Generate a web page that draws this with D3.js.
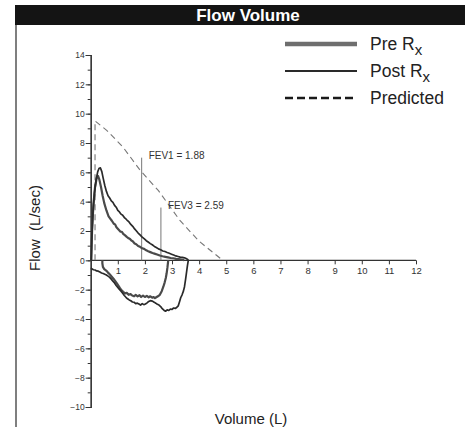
<!DOCTYPE html>
<html>
<head>
<meta charset="utf-8">
<script src="https://cdn.jsdelivr.net/npm/d3@7"></script>
<style>
  html, body { margin: 0; padding: 0; background: #fff; }
  svg { display: block; }
</style>
</head>
<body>
<svg id="chart" width="465" height="427"></svg>
<script>
// Flow-volume loops: [volume (L), flow (L/sec)]
const preExpiratory = [
  [0.02,0],[0.05,2.0],[0.1,3.8],[0.16,5.0],[0.22,5.6],[0.27,5.75],[0.32,5.5],[0.38,5.0],
  [0.44,4.4],[0.5,3.9],[0.58,3.4],[0.66,3.0],[0.72,2.85],[0.78,2.7],[0.85,2.5],[0.9,2.45],
  [0.95,2.25],[1.0,2.15],[1.05,2.05],[1.1,1.95],[1.15,1.95],[1.2,1.8],[1.27,1.7],[1.33,1.6],
  [1.4,1.5],[1.45,1.45],[1.5,1.35],[1.55,1.3],[1.62,1.15],[1.68,1.1],[1.75,0.98],[1.82,0.92],
  [1.9,0.82],[1.97,0.78],[2.05,0.68],[2.12,0.62],[2.2,0.56],[2.28,0.5],[2.35,0.46],[2.45,0.4],
  [2.55,0.33],[2.65,0.28],[2.75,0.24],[2.85,0.2],[2.95,0.16],[3.05,0.14],[3.15,0.1],
  [3.25,0.08],[3.35,0.05],[3.45,0.02]
];
const preInspiratory = [
  [2.86,0],[2.83,-0.5],[2.8,-0.9],[2.77,-1.2],[2.73,-1.5],[2.68,-1.8],[2.62,-2.1],[2.55,-2.35],
  [2.48,-2.45],[2.42,-2.52],[2.37,-2.58],[2.32,-2.5],[2.27,-2.55],[2.2,-2.45],[2.14,-2.52],
  [2.07,-2.42],[2.0,-2.5],[1.93,-2.4],[1.86,-2.5],[1.8,-2.38],[1.73,-2.46],[1.66,-2.36],
  [1.6,-2.45],[1.53,-2.4],[1.47,-2.3],[1.4,-2.35],[1.33,-2.22],[1.27,-2.25],[1.2,-2.15],
  [1.14,-2.05],[1.08,-1.9],[1.02,-1.72],[0.96,-1.55],[0.9,-1.4],[0.84,-1.25],[0.77,-1.1],
  [0.7,-0.95],[0.63,-0.82],[0.57,-0.7],[0.5,-0.6],[0.45,-0.45],[0.43,-0.2],[0.43,0]
];
const postExpiratory = [
  [0.02,0],[0.04,1.5],[0.08,3.2],[0.14,4.6],[0.2,5.5],[0.26,6.05],[0.31,6.28],[0.36,6.3],
  [0.41,6.05],[0.46,5.6],[0.52,5.1],[0.58,4.7],[0.64,4.4],[0.7,4.25],[0.76,4.05],[0.82,3.95],
  [0.88,3.75],[0.94,3.62],[1.0,3.4],[1.06,3.3],[1.12,3.15],[1.18,3.08],[1.24,2.92],[1.3,2.82],
  [1.36,2.7],[1.42,2.6],[1.48,2.45],[1.55,2.32],[1.62,2.14],[1.68,2.02],[1.75,1.86],[1.82,1.74],
  [1.9,1.58],[1.97,1.48],[2.05,1.34],[2.12,1.25],[2.2,1.14],[2.27,1.06],[2.35,0.95],[2.42,0.88],
  [2.5,0.78],[2.58,0.72],[2.66,0.64],[2.74,0.6],[2.82,0.53],[2.9,0.48],[2.98,0.42],[3.06,0.36],
  [3.14,0.3],[3.22,0.26],[3.3,0.22],[3.38,0.2],[3.46,0.17],[3.52,0.12],[3.58,0.06],[3.6,0]
];
const postInspiratory = [
  [3.6,0],[3.57,-0.35],[3.54,-0.75],[3.5,-1.3],[3.46,-1.8],[3.42,-2.1],[3.37,-2.35],[3.32,-2.55],
  [3.28,-2.8],[3.23,-3.1],[3.18,-3.2],[3.12,-3.28],[3.06,-3.25],[3.0,-3.35],[2.94,-3.32],
  [2.88,-3.42],[2.82,-3.38],[2.76,-3.47],[2.7,-3.4],[2.64,-3.3],[2.58,-3.15],[2.52,-3.05],
  [2.46,-3.0],[2.4,-2.92],[2.34,-2.85],[2.27,-2.78],[2.2,-2.75],[2.14,-2.8],[2.08,-2.9],
  [2.02,-2.98],[1.96,-3.02],[1.9,-2.95],[1.84,-3.05],[1.78,-2.98],[1.72,-2.92],[1.66,-2.95],
  [1.6,-2.86],[1.54,-2.84],[1.48,-2.76],[1.42,-2.7],[1.36,-2.62],[1.3,-2.52],[1.24,-2.4],
  [1.18,-2.25],[1.12,-2.1],[1.06,-1.98],[1.0,-1.85],[0.94,-1.72],[0.88,-1.55],[0.82,-1.42],
  [0.76,-1.28],[0.7,-1.16],[0.64,-1.08],[0.58,-1.0],[0.52,-0.95],[0.46,-0.9],[0.4,-0.86],
  [0.34,-0.8],[0.28,-0.74],[0.22,-0.72],[0.16,-0.66],[0.1,-0.64],[0.05,-0.58],[0,-0.55]
];
const predicted = [
  [0.16,0],[0.16,9.5],[0.6,8.85],[1.2,7.7],[1.8,6.2],[2.5,4.75],[3.3,2.7],[4.0,1.3],[4.87,0]
];

// FEV markers: [label, volume, marker height (flow)]
const fevNames = ["FEV1", "FEV3"];
const fevVolumes = [1.88, 2.59];
const fevHeights = [7.0, 3.6];

const xTicks = [1,2,3,4,5,6,7,8,9,10,11,12];
const yMajorTicks = [-10,-8,-6,-4,-2,0,2,4,6,8,10,12,14];
const yMinorTicks = d3.range(-10, 15, 1);

const legendLabels = ["Pre R", "Post R", "Predicted"];
const legendSubs = ["x", "x", ""];

const svg = d3.select("#chart");
const W = 465, H = 427;

// Header bar and left frame edge
svg.append("rect").attr("x", 15).attr("y", 5).attr("width", W - 15).attr("height", 20)
  .attr("fill", "#141414");
svg.append("text").attr("x", 248).attr("y", 21).attr("text-anchor", "middle")
  .attr("font-family", "Liberation Sans, Arial, sans-serif").attr("font-weight", "bold")
  .attr("font-size", 17).attr("fill", "#fff").text("Flow Volume");
svg.append("line").attr("x1", 16).attr("x2", 16).attr("y1", 25).attr("y2", H)
  .attr("stroke", "#555").attr("stroke-width", 1.5);

const x = d3.scaleLinear().domain([0, 12]).range([90.7, 416]);
const y = d3.scaleLinear().domain([-10, 14]).range([407, 55]);

const font = "Liberation Sans, Arial, sans-serif";

// Y axis with major (labelled) and minor ticks
const yAxisMajor = d3.axisLeft(y).tickValues(yMajorTicks).tickSize(5).tickPadding(1)
  .tickFormat(d3.format("d"));
const yAxisMinor = d3.axisLeft(y).tickValues(yMinorTicks).tickSize(3).tickFormat("");
const gyMinor = svg.append("g").attr("transform", `translate(${x(0)},0)`).call(yAxisMinor);
const gy = svg.append("g").attr("transform", `translate(${x(0)},0)`).call(yAxisMajor);
[gy, gyMinor].forEach(g => {
  g.select(".domain").attr("stroke", "#333").attr("stroke-width", 1.2);
  g.selectAll(".tick line").attr("stroke", "#333");
});
gy.selectAll(".tick text").attr("font-family", font).attr("font-size", 8.5).attr("fill", "#333");

// X axis along zero flow
const xAxis = d3.axisBottom(x).tickValues(xTicks).tickSize(4).tickPadding(3)
  .tickFormat(d3.format("d"));
const gx = svg.append("g").attr("transform", `translate(0,${y(0)})`).call(xAxis);
gx.select(".domain").attr("stroke", "#333").attr("stroke-width", 1.2).attr("d", `M${x(0)},0H${x(12)}`);
gx.selectAll(".tick line").attr("stroke", "#333");
gx.selectAll(".tick text").attr("font-family", font).attr("font-size", 9.5).attr("fill", "#333");

// Axis titles
svg.append("text").attr("transform", `translate(40,228) rotate(-90)`).attr("text-anchor", "middle")
  .attr("font-family", font).attr("font-size", 15).attr("fill", "#222")
  .attr("xml:space", "preserve").style("white-space", "pre").text("Flow  (L/sec)");
svg.append("text").attr("x", 251).attr("y", 424).attr("text-anchor", "middle")
  .attr("font-family", font).attr("font-size", 15).attr("fill", "#222").text("Volume (L)");

const line = d3.line().x(d => x(d[0])).y(d => y(d[1]));

// Predicted curve
svg.append("path").datum(predicted).attr("d", line).attr("fill", "none")
  .attr("stroke", "#777").attr("stroke-width", 1.1).attr("stroke-dasharray", "6,4");

// FEV markers
fevNames.forEach((name, i) => {
  svg.append("line").attr("x1", x(fevVolumes[i])).attr("x2", x(fevVolumes[i]))
    .attr("y1", y(0)).attr("y2", y(fevHeights[i])).attr("stroke", "#777").attr("stroke-width", 1);
  svg.append("text").attr("x", x(fevVolumes[i]) + 7).attr("y", y(fevHeights[i]) + 1)
    .attr("font-family", font).attr("font-size", 10).attr("fill", "#333")
    .text(`${name} = ${fevVolumes[i].toFixed(2)}`);
});

// Loops
const preStyle = { stroke: "#4a4a4a", width: 2.2 };
const postStyle = { stroke: "#2a2a2a", width: 1.7 };
[[preExpiratory, preStyle], [preInspiratory, preStyle],
 [postExpiratory, postStyle], [postInspiratory, postStyle]].forEach(([data, s]) => {
  svg.append("path").datum(data).attr("d", line).attr("fill", "none")
    .attr("stroke", s.stroke).attr("stroke-width", s.width).attr("stroke-linejoin", "round");
});

// Legend
const legendY = [44, 71, 98];
legendLabels.forEach((label, i) => {
  const ly = legendY[i];
  const l = svg.append("line").attr("x1", 285).attr("x2", 357).attr("y1", ly).attr("y2", ly);
  if (i === 0) l.attr("stroke", "#6e6e6e").attr("stroke-width", 4.5);
  else if (i === 1) l.attr("stroke", "#2a2a2a").attr("stroke-width", 2);
  else l.attr("stroke", "#1a1a1a").attr("stroke-width", 2.5).attr("stroke-dasharray", "8,4");
  const t = svg.append("text").attr("x", 370).attr("y", ly + 6)
    .attr("font-family", font).attr("font-size", 17.5).attr("fill", "#222");
  t.append("tspan").text(label);
  if (legendSubs[i]) t.append("tspan").attr("dy", 5).attr("font-size", 15).text(legendSubs[i]);
});
</script>
</body>
</html>
